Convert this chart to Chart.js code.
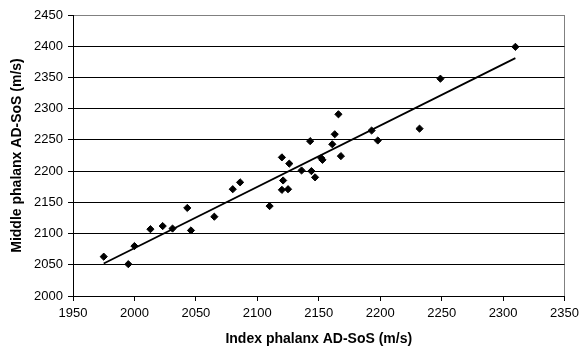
<!DOCTYPE html>
<html>
<head>
<meta charset="utf-8">
<script src="https://cdn.jsdelivr.net/npm/chart.js@4/dist/chart.umd.min.js"></script>
<style>
  html, body { margin: 0; padding: 0; background: #fff; }
  #wrap { width: 584px; height: 349px; }
</style>
</head>
<body>
<div id="wrap"><canvas id="chart" width="584" height="349"></canvas></div>
<script>
// index phalanx vs middle phalanx AD-SoS
const indexSoS  = [1975, 1995, 2000, 2013, 2023, 2031, 2043, 2046, 2065, 2080, 2086,
                   2110, 2120, 2121, 2125, 2120, 2126, 2136, 2143, 2144, 2147, 2152,
                   2153, 2161, 2163, 2166, 2168, 2193, 2198, 2232, 2249, 2310];
const middleSoS = [2063, 2051, 2080, 2107, 2112, 2108, 2141, 2105, 2127, 2171, 2182,
                   2144, 2170, 2185, 2171, 2222, 2212, 2201, 2248, 2200, 2190, 2221,
                   2218, 2243, 2259, 2291, 2224, 2265, 2249, 2268, 2348, 2399];

// trend line end points
const trendX = [1975, 2310];
const trendY = [2052, 2381];

const xMin = 1950, xMax = 2350, yMin = 2000, yMax = 2450, step = 50;

const points = indexSoS.map((x, i) => ({ x: x, y: middleSoS[i] }));
const trend = trendX.map((x, i) => ({ x: x, y: trendY[i] }));

const font = "'Liberation Sans', Arial, sans-serif";

new Chart(document.getElementById("chart"), {
  type: "scatter",
  data: {
    datasets: [
      {
        data: points,
        pointStyle: "rectRot",
        pointRadius: 3.6,
        borderWidth: 1,
        backgroundColor: "#000",
        borderColor: "#000",
        order: 1
      },
      {
        type: "line",
        data: trend,
        borderColor: "#000",
        borderWidth: 1.8,
        pointRadius: 0,
        fill: false,
        order: 2
      }
    ]
  },
  options: {
    responsive: false,
    animation: false,
    layout: { padding: { left: 0, right: 16, top: 15, bottom: 0 } },
    plugins: {
      legend: { display: false },
      tooltip: { enabled: false }
    },
    scales: {
      x: {
        type: "linear",
        min: xMin, max: xMax,
        afterFit: s => { s.height = 53; },
        ticks: {
          stepSize: step,
          color: "#000",
          padding: 5,
          maxRotation: 0,
          callback: v => String(v),
          font: { family: font, size: 13 }
        },
        grid: {
          color: c => (c.tick && c.tick.value === xMax) ? "#808080" : "rgba(0,0,0,0)",
          tickColor: "#000",
          tickLength: 5,
          lineWidth: 1
        },
        border: { color: "#000", width: 1 },
        title: {
          display: true,
          text: "Index phalanx AD-SoS (m/s)",
          color: "#000",
          padding: { top: 0, bottom: 1 },
          font: { family: font, size: 14, weight: "bold" }
        }
      },
      y: {
        type: "linear",
        min: yMin, max: yMax,
        afterFit: s => { s.width = 73; },
        ticks: {
          stepSize: step,
          color: "#000",
          padding: 5,
          callback: v => String(v),
          font: { family: font, size: 13 }
        },
        grid: {
          color: c => (c.tick && c.tick.value === yMax) ? "#808080" : "#000",
          tickColor: "#000",
          tickLength: 5,
          lineWidth: 1
        },
        border: { color: "#000", width: 1 },
        title: {
          display: true,
          text: "Middle phalanx AD-SoS (m/s)",
          color: "#000",
          padding: { top: 9, bottom: 0 },
          font: { family: font, size: 14, weight: "bold" }
        }
      }
    }
  }
});
</script>
</body>
</html>
